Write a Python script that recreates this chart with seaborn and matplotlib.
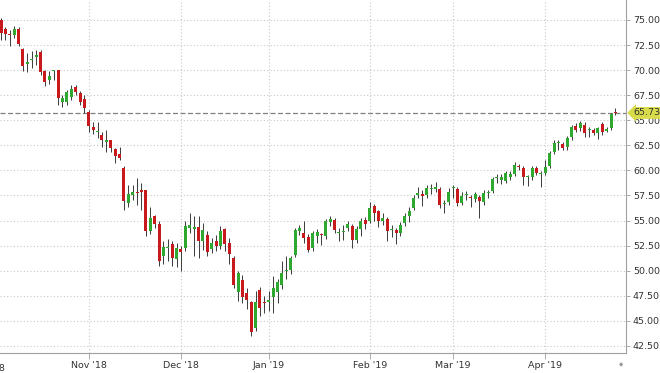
import numpy as np
import pandas as pd
import matplotlib
matplotlib.use('Agg')
import matplotlib.pyplot as plt
import seaborn as sns

# daily OHLC (Oct '18 - Apr '19)
opens = [75.0, 74.1, 73.6, 73.5, 74.1, 72.1, 70.6, 71.0, 71.3, 71.8,
         69.9, 69.0, 69.9, 70.0, 66.8, 66.8, 67.3, 68.3, 67.7, 67.1,
         65.8, 64.3, 63.8, 63.5, 62.8, 63.0, 62.1, 61.6, 60.2, 56.7,
         57.5, 57.8, 58.0, 58.0, 54.0, 55.5, 54.7, 51.5, 52.3, 52.7,
         51.2, 52.2, 52.3, 54.3, 54.2, 54.4, 53.0, 53.6, 52.2, 53.0,
         52.5, 54.2, 52.8, 51.3, 47.9, 49.1, 47.8, 46.9, 44.3, 48.1,
         46.9, 46.9, 47.4, 47.9, 48.6, 50.0, 50.1, 51.6, 54.0, 53.8,
         53.4, 52.3, 53.5, 53.7, 53.5, 54.9, 55.1, 53.8, 53.9, 54.3,
         54.5, 53.1, 54.2, 55.1, 55.0, 56.4, 55.9, 55.0, 55.2, 54.1,
         54.1, 53.8, 54.8, 55.5, 56.2, 57.5, 57.6, 57.5, 58.1, 58.1,
         58.1, 56.6, 56.8, 58.2, 58.1, 56.7, 57.5, 57.3, 57.1, 57.3,
         56.8, 57.7, 57.9, 59.2, 59.0, 58.9, 59.3, 59.6, 60.4, 60.2,
         59.3, 59.3, 60.2, 59.6, 59.7, 60.4, 61.8, 62.7, 62.6, 62.3,
         63.3, 64.4, 64.2, 64.5, 64.0, 64.0, 63.7, 64.6, 63.9, 64.2,
         65.8]
highs = [75.2, 74.3, 74.0, 74.4, 74.3, 72.2, 71.7, 71.9, 72.0, 72.0,
         70.0, 69.9, 70.0, 70.0, 67.5, 68.0, 68.5, 68.5, 67.9, 67.5,
         66.0, 64.8, 64.8, 63.8, 64.0, 63.0, 62.2, 62.3, 60.4, 58.5,
         58.5, 59.2, 58.7, 58.0, 56.3, 55.6, 55.0, 53.0, 53.2, 53.0,
         52.8, 52.5, 55.0, 55.8, 55.5, 55.5, 54.8, 54.0, 53.3, 53.6,
         54.5, 54.3, 53.3, 51.5, 50.0, 49.6, 48.3, 47.0, 48.0, 48.4,
         47.5, 48.0, 49.5, 49.2, 51.0, 51.5, 51.5, 54.3, 54.6, 55.0,
         53.7, 54.0, 54.2, 53.8, 55.2, 55.5, 55.3, 54.3, 54.6, 55.0,
         54.7, 54.5, 55.3, 55.4, 56.8, 56.6, 56.0, 55.8, 55.4, 54.6,
         54.3, 54.9, 55.8, 56.3, 57.5, 58.3, 58.0, 58.5, 58.6, 58.8,
         58.3, 57.0, 58.2, 58.5, 58.3, 57.8, 57.9, 57.5, 57.8, 57.5,
         58.0, 58.0, 59.3, 59.6, 59.6, 59.9, 59.9, 60.8, 60.6, 60.4,
         59.5, 60.4, 60.4, 59.9, 61.0, 61.9, 63.0, 63.0, 62.8, 63.4,
         64.5, 64.7, 64.9, 64.8, 64.3, 64.2, 64.3, 64.8, 64.3, 65.7,
         66.2]
lows = [73.0, 73.0, 72.4, 73.2, 72.4, 69.9, 69.8, 70.2, 70.5, 69.5,
        68.4, 68.6, 69.0, 66.5, 66.3, 66.5, 67.0, 67.5, 66.5, 65.7,
        63.8, 63.6, 63.2, 62.3, 61.8, 61.8, 60.7, 61.0, 56.0, 56.3,
        57.0, 56.5, 56.0, 53.5, 53.7, 54.3, 50.5, 50.7, 51.0, 50.5,
        50.4, 50.0, 52.0, 53.8, 51.5, 51.3, 52.1, 51.5, 51.8, 52.0,
        52.2, 52.0, 50.7, 48.3, 47.0, 46.8, 46.2, 43.5, 44.0, 45.5,
        45.8, 46.0, 45.8, 46.8, 48.2, 49.2, 49.7, 51.4, 53.6, 52.8,
        51.9, 52.0, 52.8, 52.6, 53.2, 54.5, 53.8, 53.0, 53.1, 54.0,
        52.3, 52.8, 53.5, 54.2, 54.8, 55.0, 54.4, 54.6, 53.0, 53.4,
        52.7, 53.5, 54.5, 54.9, 56.0, 57.2, 56.4, 57.2, 57.6, 57.8,
        56.2, 55.8, 56.5, 57.2, 56.4, 56.5, 57.0, 56.3, 56.8, 55.3,
        56.5, 57.2, 57.7, 58.7, 58.6, 58.7, 59.0, 59.4, 60.0, 58.5,
        58.4, 59.0, 59.5, 58.3, 59.5, 60.2, 61.6, 62.0, 62.0, 62.0,
        63.0, 63.8, 63.9, 63.3, 63.3, 63.5, 63.1, 63.5, 63.8, 64.0,
        65.5]
closes = [73.7, 73.6, 73.5, 74.1, 72.6, 70.4, 70.8, 71.1, 71.5, 69.8,
          68.8, 69.4, 70.0, 67.2, 67.2, 67.8, 68.1, 67.8, 66.8, 66.2,
          64.4, 64.0, 63.9, 63.0, 63.0, 62.2, 61.4, 61.2, 56.9, 57.6,
          57.8, 57.7, 57.8, 54.0, 55.3, 54.7, 51.0, 52.4, 52.4, 51.3,
          52.3, 51.9, 54.5, 54.6, 54.4, 53.0, 54.1, 51.9, 52.8, 52.5,
          54.0, 52.7, 51.7, 48.6, 49.8, 47.4, 47.1, 43.9, 46.9, 46.3,
          46.8, 47.1, 48.3, 48.9, 49.8, 50.1, 51.3, 54.1, 54.3, 53.3,
          52.1, 53.8, 53.9, 53.6, 55.0, 55.2, 54.1, 53.8, 54.0, 54.7,
          53.1, 54.2, 55.0, 54.7, 56.2, 55.8, 55.0, 55.3, 54.0, 54.1,
          53.8, 54.6, 55.5, 55.9, 57.2, 57.7, 57.4, 58.2, 58.1, 58.3,
          56.5, 56.6, 57.8, 58.2, 56.7, 57.4, 57.5, 57.2, 57.6, 56.9,
          57.7, 57.7, 59.1, 59.2, 59.3, 59.7, 59.6, 60.5, 60.3, 59.3,
          59.3, 60.2, 59.7, 59.6, 60.3, 61.7, 62.7, 62.7, 62.2, 63.2,
          64.3, 64.0, 64.7, 63.7, 64.0, 63.7, 64.2, 63.8, 64.1, 65.6,
          65.73]

# first trading day of each month (index into the series)
month_labels = ["Oct '18", "Nov '18", "Dec '18", "Jan '19", "Feb '19", "Mar '19", "Apr '19"]
month_start_idx = [-3, 20, 41, 61, 84, 103, 124]
last_price = 65.73

df = pd.DataFrame({'open': opens, 'high': highs, 'low': lows, 'close': closes})
df['idx'] = np.arange(len(df))
df['up'] = df['close'] >= df['open']
df['body_lo'] = df[['open', 'close']].min(axis=1)
df['body_h'] = (df['close'] - df['open']).abs().clip(lower=0.1)

sns.set_style('white')
plt.rcParams['font.family'] = ['DejaVu Sans']

fig = plt.figure(figsize=(6.6, 3.73), dpi=100)
ax = fig.add_axes([0.0, 20 / 373, 626 / 660, 353 / 373])

red = '#c8191c'
green = '#2ea82e'

# wicks
ax.vlines(df['idx'], df['low'], df['high'], color='#3a3a3a', linewidth=0.7, zorder=2)
# bodies
ax.bar(df['idx'], df['body_h'], bottom=df['body_lo'], width=0.68,
       color=np.where(df['up'], green, red), linewidth=0, zorder=3)

# last price line + label
ax.axhline(last_price, color='#808080', linestyle=(0, (4, 2)), linewidth=0.9, zorder=1)
ax.text(1.012, last_price, f'{last_price:.2f}', transform=ax.get_yaxis_transform(),
        va='center', ha='left', fontsize=6.8, color='#333333', clip_on=False, zorder=10,
        bbox=dict(boxstyle='larrow,pad=0.15', fc='#d9dc4a', ec='none'))

ax.set_yticks(np.arange(42.5, 75.01, 2.5))
ax.yaxis.tick_right()
ax.yaxis.set_major_formatter(plt.FormatStrFormatter('%.2f'))
# the first month starts before the visible window: keep only the in-view ticks
ax.set_xticks(month_start_idx[1:])
ax.set_xticklabels(month_labels[1:])
ax.set_xlim(-0.23, 142.4)
ax.set_ylim(41.79, 76.99)

# partially visible label of the first month, cut by the left edge
ax.text(month_start_idx[0], -0.03, month_labels[0], transform=ax.get_xaxis_transform(),
        ha='center', va='top', fontsize=6.8, color='#333333', clip_on=False)

ax.grid(True, color='#c8c8c8', linestyle=(0, (1, 2)), linewidth=0.8)
ax.set_axisbelow(True)
for side in ['top', 'left']:
    ax.spines[side].set_visible(False)
for side in ['right', 'bottom']:
    ax.spines[side].set_color('#a0a0a0')
    ax.spines[side].set_linewidth(0.8)

ax.tick_params(axis='y', which='both', right=True, left=False, length=3, width=0.6,
               color='#a0a0a0', labelsize=6.8, labelcolor='#333333', pad=2)
ax.tick_params(axis='x', which='both', bottom=True, length=4, width=0.6,
               color='#a0a0a0', labelsize=6.8, labelcolor='#333333', pad=2)

# small marker in the bottom-right corner
fig.text(621 / 660, 1 - 365 / 373, '\u25c6', fontsize=4, color='#999999', ha='center', va='center')

fig.savefig('out.png', dpi=100)
